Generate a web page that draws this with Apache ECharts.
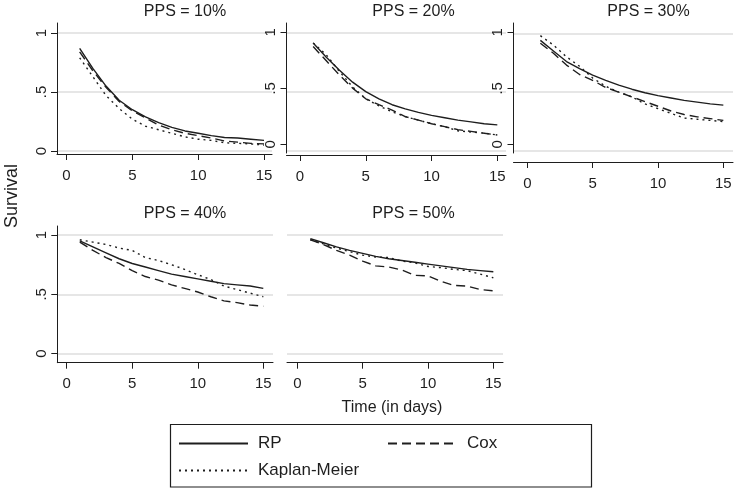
<!DOCTYPE html>
<html><head><meta charset="utf-8">
<script src="https://cdn.jsdelivr.net/npm/echarts@6/dist/echarts.min.js"></script>
<style>html,body{margin:0;padding:0;background:#fff}#c{width:738px;height:493px}</style>
</head><body><div id="c"></div>
<script>
// ---------------- data ----------------
const days = [1, 2, 3, 4, 5, 6, 7, 8, 9, 10, 11, 12, 13, 14, 15];
const panelTitles = ['PPS = 10%', 'PPS = 20%', 'PPS = 30%', 'PPS = 40%', 'PPS = 50%'];
const seriesNames = ['RP', 'Cox', 'Kaplan-Meier'];
const xTicks = [0, 5, 10, 15];
const yTicks = [0, 0.5, 1];
const yTickText = ['0', '.5', '1'];

const rp10  = [0.87, 0.70, 0.55, 0.43, 0.35, 0.29, 0.24, 0.20, 0.17, 0.15, 0.13, 0.115, 0.11, 0.10, 0.09];
const cox10 = [0.84, 0.68, 0.54, 0.42, 0.34, 0.28, 0.22, 0.18, 0.15, 0.13, 0.11, 0.085, 0.075, 0.065, 0.06];
const km10  = [0.79, 0.63, 0.47, 0.36, 0.27, 0.21, 0.18, 0.15, 0.12, 0.10, 0.09, 0.07, 0.065, 0.06, 0.05];

const rp20  = [0.91, 0.79, 0.68, 0.58, 0.50, 0.44, 0.39, 0.355, 0.325, 0.30, 0.28, 0.26, 0.245, 0.23, 0.22];
const cox20 = [0.88, 0.76, 0.64, 0.53, 0.44, 0.39, 0.345, 0.29, 0.26, 0.23, 0.205, 0.18, 0.165, 0.15, 0.135];
const km20  = [0.91, 0.81, 0.67, 0.54, 0.44, 0.38, 0.33, 0.29, 0.26, 0.23, 0.205, 0.17, 0.16, 0.15, 0.135];

const rp30  = [0.94, 0.85, 0.76, 0.70, 0.645, 0.60, 0.56, 0.525, 0.495, 0.47, 0.45, 0.43, 0.415, 0.40, 0.39];
const cox30 = [0.915, 0.83, 0.73, 0.65, 0.60, 0.54, 0.50, 0.46, 0.42, 0.38, 0.34, 0.31, 0.29, 0.275, 0.26];
const km30  = [0.98, 0.90, 0.80, 0.72, 0.62, 0.55, 0.50, 0.46, 0.40, 0.36, 0.32, 0.28, 0.27, 0.26, 0.25];

const rp40  = [0.95, 0.90, 0.85, 0.80, 0.76, 0.73, 0.70, 0.67, 0.65, 0.63, 0.61, 0.59, 0.58, 0.57, 0.55];
const cox40 = [0.94, 0.87, 0.81, 0.76, 0.70, 0.65, 0.62, 0.58, 0.55, 0.52, 0.48, 0.445, 0.43, 0.41, 0.40];
const km40  = [0.96, 0.94, 0.92, 0.89, 0.87, 0.81, 0.785, 0.75, 0.71, 0.665, 0.625, 0.57, 0.54, 0.51, 0.48];

const rp50  = [0.97, 0.935, 0.90, 0.87, 0.845, 0.82, 0.80, 0.785, 0.77, 0.755, 0.74, 0.725, 0.71, 0.70, 0.69];
const cox50 = [0.96, 0.92, 0.87, 0.83, 0.78, 0.74, 0.73, 0.705, 0.66, 0.655, 0.61, 0.575, 0.57, 0.54, 0.53];
const km50  = [0.96, 0.925, 0.89, 0.86, 0.83, 0.815, 0.81, 0.78, 0.765, 0.735, 0.725, 0.71, 0.70, 0.67, 0.64];

const panelData = [
  [rp10, cox10, km10],
  [rp20, cox20, km20],
  [rp30, cox30, km30],
  [rp40, cox40, km40],
  [rp50, cox50, km50]
];

// ---------------- layout / style ----------------
const FONT = '"Liberation Sans", Arial, Helvetica, sans-serif';
const INK = '#1e1e1e';
const GRIDC = '#dedede';
const layout = [
  {grid: {left: 57, top: 23, width: 215, height: 131}, x: [-0.7215, 15.607], xOff: 0,
   yGrid: [-0.0254, 1.0847], yTick: null, showY: true, title: [185, 12]},
  {grid: {left: 286.5, top: 23, width: 219.5, height: 130}, x: [-1.026, 15.66], xOff: 2,
   yGrid: [-0.01685, 1.0784], yTick: [-0.0777, 1.083], showY: true, title: [413.5, 12]},
  {grid: {left: 513.5, top: 23, width: 219.5, height: 130}, x: [-1.056, 15.74], xOff: 9,
   yGrid: [-0.017, 1.0875], yTick: [-0.0777, 1.083], showY: true, title: [648.5, 12]},
  {grid: {left: 57.3, top: 226, width: 215.7, height: 136.7}, x: [-0.717, 15.74], xOff: 0,
   yGrid: [-0.0758, 1.0758], yTick: null, showY: true, title: [185, 213.5]},
  {grid: {left: 287, top: 226, width: 216, height: 136.7}, x: [-0.788, 15.74], xOff: 0,
   yGrid: [-0.0758, 1.0758], yTick: null, showY: false, title: [413.5, 213.5]}
];
const lineTypes = ['solid', [9, 5], [2, 4]];

const axisLineStyle = {color: INK, width: 1};
const grids = [], xAxes = [], yAxes = [], series = [];

function yLabel() {
  return {show: true, customValues: yTicks, rotate: 90, margin: 8, fontSize: 15,
    fontFamily: FONT, color: INK,
    formatter: v => { const k = yTicks.indexOf(v); return k >= 0 ? yTickText[k] : ''; }};
}

layout.forEach((L, i) => {
  grids.push(Object.assign({containLabel: false}, L.grid));
  xAxes.push({
    gridIndex: i, type: 'value', position: 'bottom', min: L.x[0], max: L.x[1], offset: L.xOff,
    axisLine: {show: true, onZero: false, lineStyle: axisLineStyle},
    axisTick: {show: true, length: 6, customValues: xTicks, lineStyle: axisLineStyle},
    axisLabel: {show: true, customValues: xTicks, margin: 14, fontSize: 15, fontFamily: FONT, color: INK},
    splitLine: {show: false}
  });
  // axis carrying gridlines and data
  const gridAxisIdx = yAxes.length;
  const single = L.showY && !L.yTick;
  yAxes.push({
    gridIndex: i, type: 'value', position: 'left', offset: 0, min: L.yGrid[0], max: L.yGrid[1],
    axisLine: {show: single, onZero: false, lineStyle: axisLineStyle},
    axisTick: {show: single, length: 6, customValues: yTicks, lineStyle: axisLineStyle},
    axisLabel: single ? yLabel() : {show: false, customValues: yTicks},
    splitLine: {show: true, lineStyle: {color: GRIDC, width: 1.5}}
  });
  if (L.showY && L.yTick) {
    yAxes.push({
      gridIndex: i, type: 'value', position: 'left', offset: 0, min: L.yTick[0], max: L.yTick[1],
      axisLine: {show: true, onZero: false, lineStyle: axisLineStyle},
      axisTick: {show: true, length: 6, customValues: yTicks, lineStyle: axisLineStyle},
      axisLabel: yLabel(),
      splitLine: {show: false}
    });
  }
  panelData[i].forEach((vals, s) => {
    series.push({
      name: seriesNames[s], type: 'line', xAxisIndex: i, yAxisIndex: gridAxisIdx,
      data: days.map((d, k) => [d, vals[k]]),
      symbol: 'none', showSymbol: false, smooth: false, animation: false, silent: true,
      lineStyle: {color: INK, width: 1.4, type: lineTypes[s]},
      itemStyle: {color: INK}, z: 3
    });
  });
});

const legendBase = {
  orient: 'horizontal', padding: 0, itemWidth: 69, itemHeight: 14, selectedMode: false,
  itemStyle: {color: 'rgba(0,0,0,0)', borderColor: 'rgba(0,0,0,0)', borderWidth: 0, opacity: 0},
  textStyle: {fontSize: 17, fontFamily: FONT, color: INK, padding: [0, 0, 0, 5]}
};
const legends = [
  Object.assign({}, legendBase, {data: ['RP'], left: 178, top: 435}),
  Object.assign({}, legendBase, {data: ['Cox'], left: 387, top: 435}),
  Object.assign({}, legendBase, {data: ['Kaplan-Meier'], left: 178, top: 462})
];

const txt = (x, y, text, size, rot) => ({
  type: 'text', x, y, rotation: rot || 0, silent: true,
  style: {text, fontSize: size, fontFamily: FONT, fill: INK,
    textAlign: 'center', textVerticalAlign: 'middle', align: 'center', verticalAlign: 'middle'}
});
const graphics = layout.map((L, i) => txt(L.title[0], L.title[1], panelTitles[i], 16));
graphics.push(txt(12, 196, 'Survival', 18, Math.PI / 2));
graphics.push(txt(392, 408, 'Time (in days)', 16));
graphics.push({type: 'rect', silent: true, shape: {x: 170.5, y: 424.5, width: 421, height: 62.5},
  style: {fill: 'none', stroke: INK, lineWidth: 1.2}});

const chart = echarts.init(document.getElementById('c'), null, {renderer: 'canvas'});
chart.setOption({
  backgroundColor: '#ffffff',
  animation: false,
  grid: grids, xAxis: xAxes, yAxis: yAxes, series,
  legend: legends,
  graphic: graphics
});
</script></body></html>
